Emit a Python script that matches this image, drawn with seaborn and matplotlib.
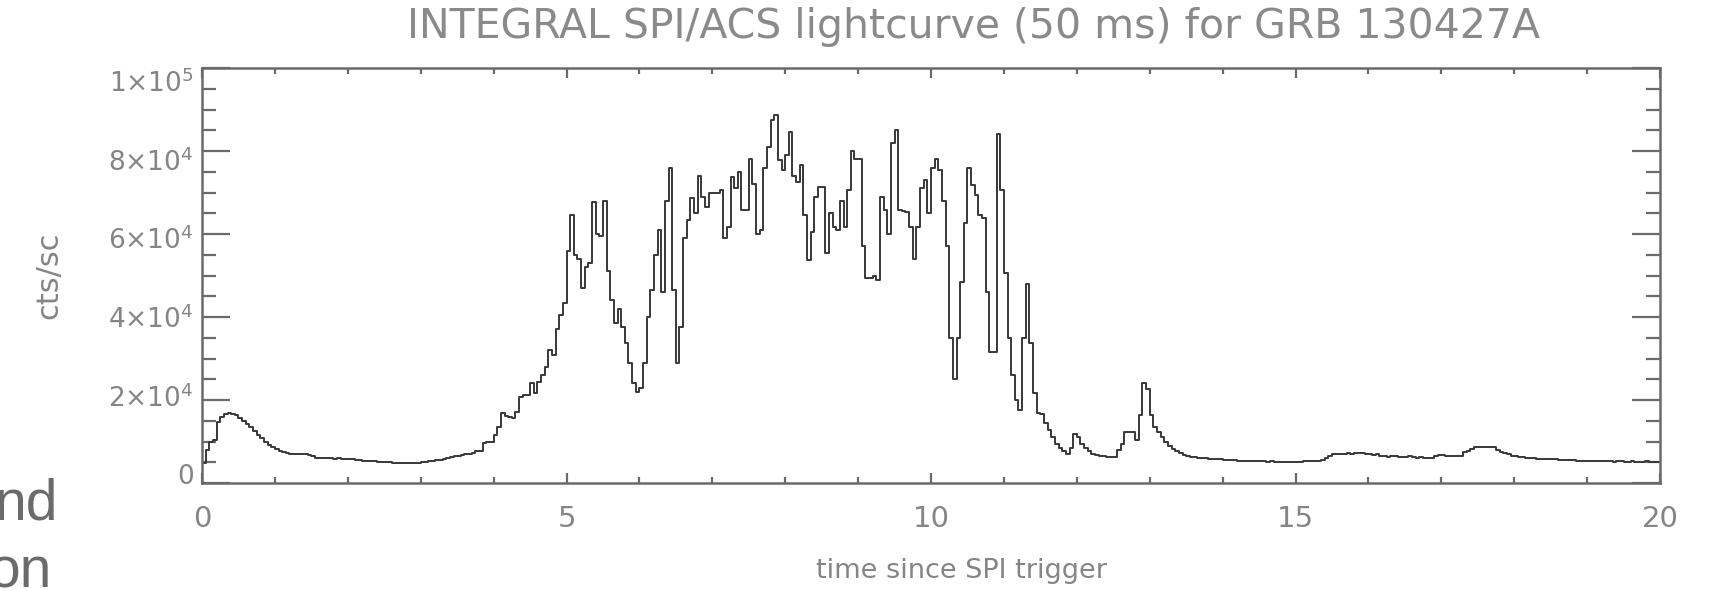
import numpy as np
import pandas as pd
import matplotlib
matplotlib.use("Agg")
import matplotlib.pyplot as plt
import matplotlib.transforms as mtransforms
import seaborn as sns
from matplotlib.ticker import MultipleLocator, FuncFormatter

# INTEGRAL SPI/ACS count rate of GRB 130427A, 50 ms bins,
# in units of 1000 cts/s, one list per second after the trigger
BIN_WIDTH = 0.05
cts_00 = [4.7, 8.0, 10.0, 10.4, 14.8, 16.0, 16.6, 16.8, 16.7, 16.4, 15.7, 15.0, 14.2, 13.4, 12.5, 11.6, 10.8, 10.0, 9.2, 8.6]
cts_01 = [8.1, 7.7, 7.4, 7.2, 7.1, 7.1, 7.0, 7.0, 6.9, 6.7, 6.4, 6.1, 6.0, 6.0, 6.1, 6.0, 5.9, 6.0, 5.9, 5.8]
cts_02 = [5.7, 5.7, 5.6, 5.5, 5.4, 5.4, 5.3, 5.2, 5.1, 5.1, 5.0, 5.0, 4.9, 4.9, 4.9, 4.8, 4.9, 4.9, 4.9, 4.9]
cts_03 = [5.0, 5.1, 5.2, 5.3, 5.5, 5.6, 5.8, 6.0, 6.2, 6.4, 6.5, 6.7, 6.9, 7.1, 7.3, 7.6, 7.8, 9.6, 9.8, 10.0]
cts_04 = [11.5, 13.6, 16.8, 16.2, 15.8, 15.6, 17.2, 20.8, 21.2, 21.2, 24.0, 21.6, 24.4, 26.0, 28.0, 32.0, 30.8, 37.2, 40.5, 43.4]
cts_05 = [56.0, 64.5, 55.0, 54.0, 47.0, 52.0, 53.0, 67.7, 60.0, 59.5, 68.0, 51.0, 44.0, 38.5, 42.0, 37.6, 33.7, 29.0, 24.0, 22.0]
cts_06 = [23.0, 29.0, 40.0, 46.5, 55.0, 61.0, 46.0, 68.0, 76.0, 46.5, 29.0, 37.6, 59.0, 63.4, 68.7, 65.0, 74.0, 69.0, 66.5, 70.0]
cts_07 = [70.0, 70.0, 70.6, 59.0, 61.7, 73.7, 71.0, 75.0, 65.8, 65.8, 78.0, 72.0, 60.0, 61.0, 76.0, 81.0, 87.5, 88.7, 77.8, 75.4]
cts_08 = [79.0, 84.6, 74.0, 72.5, 76.6, 64.6, 53.7, 60.5, 69.0, 71.3, 71.3, 55.4, 65.0, 61.7, 61.0, 68.0, 61.7, 70.6, 80.0, 78.0]
cts_09 = [78.0, 57.0, 49.4, 49.5, 50.0, 49.0, 69.0, 65.8, 60.0, 82.0, 85.0, 65.8, 65.5, 65.3, 61.7, 54.0, 61.7, 71.0, 73.0, 65.0]
cts_10 = [76.0, 78.0, 75.4, 68.0, 57.0, 35.0, 25.0, 35.0, 48.4, 62.6, 76.0, 71.8, 69.4, 64.6, 63.9, 46.0, 31.6, 31.6, 84.0, 70.6]
cts_11 = [50.6, 35.0, 26.0, 20.0, 17.6, 35.0, 48.0, 33.7, 21.7, 16.9, 16.7, 14.5, 12.7, 11.0, 9.5, 8.5, 7.8, 7.1, 8.5, 11.9]
cts_12 = [11.0, 9.5, 8.5, 7.8, 7.1, 6.8, 6.6, 6.4, 6.3, 6.3, 6.3, 8.0, 9.5, 12.3, 12.3, 12.3, 10.3, 16.3, 24.2, 22.6]
cts_13 = [16.5, 13.5, 12.2, 11.1, 10.0, 9.0, 8.3, 7.7, 7.2, 6.7, 6.5, 6.3, 6.2, 6.1, 6.0, 6.0, 5.9, 5.8, 5.7, 5.7]
cts_14 = [5.6, 5.6, 5.5, 5.5, 5.4, 5.4, 5.3, 5.3, 5.3, 5.2, 5.2, 5.2, 5.1, 5.2, 5.1, 5.1, 5.1, 5.1, 5.1, 5.1]
cts_15 = [5.1, 5.1, 5.2, 5.2, 5.3, 5.3, 5.4, 5.5, 6.0, 6.6, 7.0, 7.0, 7.1, 7.0, 7.2, 7.1, 7.3, 7.2, 7.3, 7.1]
cts_16 = [7.0, 6.8, 6.9, 6.6, 6.5, 6.3, 6.5, 6.4, 6.2, 6.3, 6.3, 6.4, 6.3, 6.1, 6.2, 6.0, 6.0, 6.1, 6.5, 6.7]
cts_17 = [6.7, 6.6, 6.6, 6.5, 6.5, 6.6, 7.5, 7.6, 8.2, 8.6, 8.7, 8.7, 8.6, 8.7, 8.6, 8.0, 7.5, 7.2, 6.9, 6.6]
cts_18 = [6.5, 6.3, 6.2, 6.1, 6.0, 6.0, 5.9, 5.9, 5.8, 5.8, 5.7, 5.7, 5.6, 5.6, 5.5, 5.5, 5.5, 5.4, 5.4, 5.4]
cts_19 = [5.3, 5.3, 5.2, 5.3, 5.2, 5.2, 5.2, 5.1, 5.2, 5.2, 5.1, 5.1, 5.2, 5.1, 5.1, 5.1, 5.2, 5.1, 5.1, 5.1]

x_ticks = [0, 5, 10, 15, 20]
y_ticks = [0, 2e4, 4e4, 6e4, 8e4, 1e5]

seconds = [cts_00, cts_01, cts_02, cts_03, cts_04, cts_05, cts_06, cts_07, cts_08, cts_09,
           cts_10, cts_11, cts_12, cts_13, cts_14, cts_15, cts_16, cts_17, cts_18, cts_19]
rate = np.concatenate([np.asarray(s, float) for s in seconds]) * 1e3
t_start = np.arange(rate.size) * BIN_WIDTH
# repeat the last bin at its right edge so the final step is closed
df = pd.DataFrame({
    "time": np.append(t_start, t_start[-1] + BIN_WIDTH),
    "rate": np.append(rate, rate[-1]),
})

sns.set_theme(style="white")
plt.rcParams["font.family"] = ["DejaVu Sans"]
plt.rcParams["mathtext.fontset"] = "dejavusans"

W, H = 1709, 591
fig = plt.figure(figsize=(W / 100, H / 100), dpi=100)
ax = fig.add_axes([202 / W, 108 / H, 1458 / W, 415 / H])

sns.lineplot(data=df, x="time", y="rate", drawstyle="steps-post",
             estimator=None, color="#383838", linewidth=1.4, ax=ax)

ax.set_xlim(0, 20)
ax.set_ylim(0, 1e5)
ax.set_xticks(x_ticks)
ax.set_yticks(y_ticks)
ax.xaxis.set_minor_locator(MultipleLocator(1))
ax.yaxis.set_minor_locator(MultipleLocator(5e3))


def sci_label(v, pos):
    if v == 0:
        return "0"
    exp = int(np.floor(np.log10(v) + 1e-9))
    mant = v / 10 ** exp
    return r"$%d{\times}10^{%d}$" % (round(mant), exp)


ax.yaxis.set_major_formatter(FuncFormatter(sci_label))
ax.xaxis.set_major_formatter(FuncFormatter(lambda v, p: "%d" % v))

axis_grey = "#6a6a6a"
label_grey = "#858585"
for sp in ax.spines.values():
    sp.set_visible(True)
    sp.set_color(axis_grey)
    sp.set_linewidth(1.8)

ax.tick_params(which="both", direction="in", left=True, bottom=True, top=True, right=True,
               color=axis_grey, width=1.6, labelcolor=label_grey)
ax.tick_params(axis="y", which="major", length=20, labelsize=19, pad=6)
ax.tick_params(axis="y", which="minor", length=10)
ax.tick_params(axis="x", which="major", length=7, labelsize=21, pad=16)
ax.tick_params(axis="x", which="minor", length=4)

# the y labels sit slightly inside the tick range: lowered at the top, raised at the bottom
for tick in ax.yaxis.get_major_ticks():
    frac = tick.get_loc() / 1e5
    shift_px = -13 * frac + 9 * (1 - frac)
    tick.label1.set_transform(tick.label1.get_transform() +
                              mtransforms.ScaledTranslation(0, shift_px / 100, fig.dpi_scale_trans))

ax.set_xlabel("time since SPI trigger", fontsize=19.5, color=label_grey)
ax.set_ylabel("cts/sc", fontsize=22, color=label_grey)
ax.xaxis.label.set_va("center")
ax.yaxis.label.set_va("center")
ax.xaxis.set_label_coords(0.521, -0.212)
ax.yaxis.set_label_coords(-0.105, 0.5)

fig.text(973 / W, 1 - 27 / H, "INTEGRAL SPI/ACS lightcurve (50 ms) for GRB 130427A",
         ha="center", va="center", fontsize=29.5, color="#8a8a8a")

# fragments of the surrounding slide text at the left edge
side_font = ["Liberation Sans", "DejaVu Sans"]
fig.text(58 / W, 1 - 520 / H, "nd", ha="right", va="baseline",
         fontsize=41, color="#6b6b6b", family=side_font)
fig.text(52 / W, 1 - 588 / H, "on", ha="right", va="baseline",
         fontsize=41, color="#6b6b6b", family=side_font)

fig.savefig("out.png", dpi=100, facecolor="white")
